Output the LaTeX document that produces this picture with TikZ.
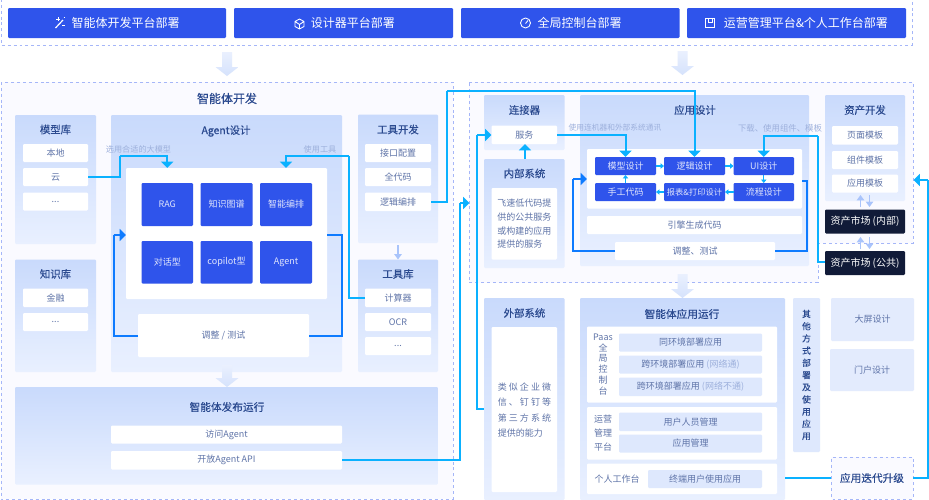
\documentclass[tikz,border=0pt]{standalone}
\usepackage{fontspec}
\setmainfont[BoldFont={Noto Sans CJK SC},BoldFeatures={FakeBold=0.35}]{Noto Sans CJK SC}
\usetikzlibrary{arrows.meta,calc}
\definecolor{btn}{HTML}{2F54EB}
\definecolor{ttl}{HTML}{2B4A8F}
\definecolor{itm}{HTML}{5F74A8}
\definecolor{lbl}{HTML}{9DB0DC}
\definecolor{cyn}{HTML}{0AB1FF}
\definecolor{blu}{HTML}{0E7BFF}
\definecolor{dsh}{HTML}{A5B6F8}
\definecolor{bgd}{HTML}{FAFAFF}
\definecolor{dark}{HTML}{111B38}
\definecolor{pale}{HTML}{DEE8FD}
\definecolor{gtop}{HTML}{C9DAFC}
\definecolor{gbot}{HTML}{E9F0FF}
\definecolor{arT}{HTML}{EAF0FE}
\definecolor{arB}{HTML}{D5E2FC}
\definecolor{sm}{HTML}{A9C4FB}
\newcommand\fs[2]{\fontsize{#1}{#2}\selectfont}
\tikzset{
 x=0.75pt,y=-0.75pt,
 base/.style={inner sep=0pt,outer sep=0pt,rounded corners=0.8pt,align=center},
 btnbox/.style={base,fill=btn,text=white,font=\fs{9}{11}},
 panel/.style={base,top color=gtop,bottom color=gbot,middle color=gtop!50!gbot},
 white box/.style={base,fill=white,text=itm,font=\fs{6.75}{9}},
 tile/.style={base,fill=btn,text=white!85!btn,font=\fs{6.75}{9}},
 palebox/.style={base,fill=pale,text=itm,font=\fs{6.75}{9}},
 darkbox/.style={base,fill=dark,text=white,font=\fs{7.5}{9}},
 ttlA/.style={text=ttl,font=\bfseries\fs{7.8}{10},inner sep=0pt},
 ttlB/.style={text=ttl,font=\bfseries\fs{9}{11},inner sep=0pt},
 lab/.style={text=lbl,font=\fs{6.1}{8},inner sep=0pt},
 itx/.style={text=itm,font=\fs{6.75}{9},inner sep=0pt,align=center},
 dbox/.style={draw=dsh,line width=0.75pt,dash pattern=on 2.2pt off 2.2pt},
 cy/.style={draw=cyn,line width=1.5pt,-{Triangle[width=9pt,length=4.8pt]}},
 cyn line/.style={draw=cyn,line width=1.5pt},
 bl/.style={draw=blu,line width=1.5pt,-{Triangle[width=9pt,length=4.8pt]}},
 bl line/.style={draw=blu,line width=1.5pt},
 tiny/.style={draw=cyn,line width=0.9pt,-{Triangle[width=4pt,length=2.6pt]}},
 smar/.style={draw=sm,line width=1pt,-{Triangle[width=5.5pt,length=4pt]}},
 icon/.style={draw=white,line width=0.65pt},
}
\newcommand\bx[7][]{%
 \pgfmathsetmacro\bxw{(#5-#3)*0.75}\pgfmathsetmacro\bxh{(#6-#4)*0.75}%
 \pgfmathsetmacro\bxx{(#3+#5)/2}\pgfmathsetmacro\bxy{(#4+#6)/2}%
 \node[#1,minimum width=\bxw pt,minimum height=\bxh pt] (#2) at (\bxx,\bxy) {#7};}
\newcommand\blockar[3]{% x, top, bottom
 \shade[top color=arT,bottom color=arB]
 ({#1-5},#2) -- ({#1+5},#2) -- ({#1+5},{#3-9}) -- ({#1+11.5},{#3-9}) -- (#1,#3) -- ({#1-11.5},{#3-9}) -- ({#1-5},{#3-9}) -- cycle;}
\begin{document}
\begin{tikzpicture}
\useasboundingbox (0,0) rectangle (929,500);
\fill[white] (0,0) rectangle (929,500);
% dashed frames
\draw[dbox] (1,-1) rectangle (912,45);
\filldraw[dbox,fill=bgd] (1,82) rectangle (453,499);
\filldraw[dbox,fill=bgd] (469,82) -- (913,82) -- (913,243) -- (818,243) -- (818,282.5) -- (469,282.5) -- cycle;
% deploy buttons
\bx[btnbox]{b1}{8}{8}{226}{38}{\hspace*{13pt}智能体开发平台部署}
\bx[btnbox]{b2}{234}{8}{453}{38}{\hspace*{14pt}设计器平台部署}
\bx[btnbox]{b3}{461}{8}{679.5}{38}{\hspace*{14pt}全局控制台部署}
\bx[btnbox]{b4}{687}{8}{906}{38}{\hspace*{14pt}运营管理平台\&个人工作台部署}
% icons
\draw[icon,line width=0.9pt] (55.5,28) -- (63,20);
\draw[icon,line width=0.5pt] (58,17) -- (58,21) (56,19) -- (60,19) (62,25) -- (65,25) (63.5,17.5) -- (65,17.5);
\draw[icon] (299.5,19) -- (304,21.5) -- (304,26.5) -- (299.5,29) -- (295,26.5) -- (295,21.5) -- cycle (295,21.5) -- (299.5,24.5) -- (304,21.5) (299.5,24.5) -- (299.5,29);
\draw[icon] (525.5,23) circle (5);
\draw[icon] (525.5,23.5) -- (528,20.5);
\draw[icon] (705.5,18.5) rectangle (714.5,27.5) (708,18.5) -- (708,22.5) -- (712,22.5) -- (712,18.5);
% block arrows
\blockar{227}{52}{76}
\blockar{682.5}{51}{75}
% left: agent development
\node[ttlB] (t1) at (227,98.5) {智能体开发};
\bx[panel]{mlib}{15}{115}{96}{244}{}
\node[ttlA] at (55.5,129.5) {模型库};
\bx[white box]{m1}{23}{144}{88}{162}{本地}
\bx[white box]{m2}{23}{168}{88}{186}{云}
\bx[white box]{m3}{23}{192.5}{88}{210.5}{...}
\bx[panel]{klib}{15}{259.5}{96}{372}{}
\node[ttlA] at (55.5,274) {知识库};
\bx[white box]{k1}{23}{288.5}{88}{307}{金融}
\bx[white box]{k2}{23}{313}{88}{331}{...}
\bx[panel]{adesign}{111}{115}{342}{372}{}
\node[ttlA] at (226,131) {Agent设计};
\node[lab] at (138.5,149.5) {选用合适的大模型};
\node[lab] at (320,149.5) {使用工具};
\bx[base,fill=white]{apanel}{126}{168}{327}{299}{}
\bx[tile]{a1}{141.5}{183}{193}{226}{RAG}
\bx[tile]{a2}{200.5}{183}{252.5}{226}{知识图谱}
\bx[tile]{a3}{260}{183}{312}{226}{智能编排}
\bx[tile]{a4}{141.5}{241}{193}{283.5}{对话型}
\bx[tile]{a5}{200.5}{241}{252.5}{283.5}{copilot型}
\bx[tile]{a6}{260}{241}{312}{283.5}{Agent}
\bx[white box]{atest}{138}{314}{309}{357}{调整 / 测试}
\bx[panel]{tdev}{358}{114.5}{438}{243}{}
\node[ttlA] at (398,129.5) {工具开发};
\bx[white box]{t2}{365}{144}{431}{162}{接口配置}
\bx[white box]{t3}{365}{168}{431}{186}{全代码}
\bx[white box]{t4}{365}{192.5}{431}{211}{逻辑编排}
\bx[panel]{tlib}{358}{259.5}{438}{372}{}
\node[ttlA] at (398,274) {工具库};
\bx[white box]{l1}{365}{288.5}{431}{307}{计算器}
\bx[white box]{l2}{365}{313}{431}{331}{OCR}
\bx[white box]{l3}{365}{337}{431}{355}{...}
\draw[smar] (tdev.south) ++(0,2) -- (tlib.north);
\bx[panel]{pub}{15}{387}{438}{484.5}{}
\node[ttlA,font=\bfseries\fs{8}{10}] at (227,407) {智能体发布运行};
\bx[white box]{p1}{111}{425.5}{342}{443.5}{访问Agent}
\bx[white box]{p2}{111}{451}{342}{469.5}{开放Agent API}
\blockar{227}{365}{387}
% right: application design
\bx[panel]{conn}{484}{95}{564.5}{150}{}
\node[ttlA] at (524.5,110) {连接器};
\bx[white box]{svc}{491.5}{125.5}{557}{144}{服务}
\bx[panel]{isys}{484}{159}{564.5}{268}{}
\node[ttlA] at (524.5,173.5) {内部系统};
\bx[white box,font=\fs{6.75}{10.35}]{itxt}{491.5}{188}{557}{259.5}{飞速低代码提\\供的公共服务\\或构建的应用\\提供的服务\hspace*{6.75pt}}
\bx[panel]{adsn}{580}{95}{809}{266}{}
\node[ttlA] at (695,110) {应用设计};
\node[lab,font=\fs{5.8}{8}] at (615,128) {使用连机器和外部系统通讯};
\node[lab,font=\fs{6.3}{8}] at (780,128) {下载、使用组件、模板};
\bx[base,fill=white]{dpanel}{587}{149}{802}{208.5}{}
\bx[tile]{d1}{595}{157}{656}{175}{模型设计}
\bx[tile]{d2}{664}{157}{725}{175}{逻辑设计}
\bx[tile]{d3}{733.5}{157}{794}{175}{UI设计}
\bx[tile]{d4}{595}{183}{656}{201}{手工代码}
\bx[tile,font=\fs{6.2}{9}]{d5}{664}{183}{725}{201}{报表\&打印设计}
\bx[tile]{d6}{733.5}{183}{794}{201}{流程设计}
\draw[tiny] (d1.east) -- (d2.west);
\draw[tiny] (d2.east) -- (d3.west);
\draw[tiny] (d3.south) -- (d6.north);
\draw[tiny] (d6.west) -- (d5.east);
\draw[tiny] (d5.west) -- (d4.east);
\draw[tiny] (d4.north) -- (d1.south);
\bx[white box]{engine}{587}{216}{802}{234}{引擎生成代码}
\bx[white box]{dtest}{615}{242}{775}{260}{调整、测试}
\bx[panel]{adev}{825}{95}{905}{201}{}
\node[ttlA] at (865,110) {资产开发};
\bx[white box]{as1}{832}{126}{898}{144.5}{页面模板}
\bx[white box]{as2}{832}{151}{898}{169}{组件模板}
\bx[white box]{as3}{832}{174.5}{898}{192.5}{应用模板}
\bx[darkbox]{mk1}{825}{209.5}{905}{233.5}{资产市场 (内部)}
\bx[darkbox]{mk2}{825}{251}{905}{275}{资产市场 (公共)}
\draw[smar] (860.5,207) -- (860.5,195);
\draw[smar] (869.5,195) -- (869.5,207);
\draw[smar] (860.5,249) -- (860.5,237);
\draw[smar] (869.5,237) -- (869.5,249);
% run time
\blockar{682.5}{274}{298}
\bx[panel]{esys}{484}{298}{564.5}{500}{}
\node[ttlA] at (524.5,313) {外部系统};
\bx[white box]{etxt}{491.5}{327}{557}{492}{}
\node[itx,font=\fs{6.75}{11.5},align=left,anchor=center] (etx) at (524.5,410) {%
\makebox[40pt][s]{类\hfil 似\hfil 企\hfil 业\hfil 微}\\
\makebox[40pt][s]{信\hfil 、\hfil 钉\hfil 钉\hfil 等}\\
\makebox[40pt][s]{第\hfil 三\hfil 方\hfil 系\hfil 统}\\
提供的能力};
\bx[panel]{run}{580}{298}{785}{500}{}
\node[ttlA,font=\bfseries\fs{8}{10}] at (682,314) {智能体应用运行};
\bx[base,fill=white]{r1}{587}{326.5}{777}{402.5}{}
\bx[base,fill=white]{r2}{587}{407}{777}{459.5}{}
\bx[base,fill=white]{r3}{587}{463.5}{777}{494}{}
\node[itx,font=\fs{6.75}{8.2}] at (603,364.5) {Paas\\全\\局\\控\\制\\台};
\node[itx,font=\fs{6.75}{10.4}] at (603,433) {运营\\管理\\平台};
\node[itx] at (617,479) {个人工作台};
\bx[palebox]{q1}{619}{333.5}{762}{351.5}{同环境部署应用}
\bx[palebox]{q2}{619}{355.5}{762}{373.5}{跨环境部署应用 \textcolor{lbl}{(网络通)}}
\bx[palebox]{q3}{619}{377.5}{762}{396}{跨环境部署应用 \textcolor{lbl}{(网络不通)}}
\bx[palebox]{q4}{619}{412.5}{762}{431}{用户人员管理}
\bx[palebox]{q5}{619}{434.5}{762}{452.5}{应用管理}
\bx[palebox]{q6}{648}{470}{762}{488}{终端用户使用应用}
\bx[palebox,text=ttl,font=\bfseries\fs{6.6}{9.15}]{other}{793}{298}{820}{452}{其\\他\\方\\式\\部\\署\\及\\使\\用\\应\\用}
\bx[base,fill=pale!85!white,text=itm,font=\fs{6.75}{9}]{big}{831}{298}{914}{341}{大屏设计}
\bx[base,fill=pale!85!white,text=itm,font=\fs{6.75}{9}]{portal}{830}{349}{914}{391}{门户设计}
\bx[dbox,base,fill=bgd,text=ttl,font=\bfseries\fs{8}{10}]{iter}{831}{457}{913}{499}{应用迭代升级}
% connectors
\coordinate (c1) at (120,156);
\draw[cyn line] (m2.east) -| (c1);
\draw[cy] (c1) -| (apanel.north -| a1.north);
\coordinate (c2) at (348.5,156);
\draw[cyn line] (l1.west) -| (c2);
\draw[cy] (c2) -| (apanel.north -| a3.north);
\coordinate (c3) at (113.5,235);
\draw[bl line] (atest.west) -| (c3);
\draw[bl] (c3) -- (apanel.west |- c3);
\coordinate (c4) at (341.5,235);
\draw[bl line] (atest.east) -| (c4) -- (apanel.east |- c4);
\coordinate (c5) at (447,91);
\draw[cyn line] (t4.east) -| (c5);
\draw[cy] (c5) -| (d2.north);
\coordinate (c6) at (460,203);
\draw[cyn line] (p2.east) -| (c6);
\draw[cy] (c6) -- (469.5,203);
\coordinate (c7) at (477,135);
\draw[cyn line] (esys.west |- 0,409) -| (c7);
\draw[cy] (c7) -- (svc.west |- c7);
\draw[cy] (isys.north -| 525,0) -- (svc.south -| 525,0);
\draw[cy] (svc.east) -| (d1.north);
\coordinate (c8) at (818,135.5);
\draw[cyn line] (mk2.west |- 0,262) -| (c8);
\draw[cy] (c8) -| (d3.north);
\coordinate (c9) at (573,179);
\draw[bl line] (dtest.west) -| (c9);
\draw[bl] (c9) -- (dpanel.west |- c9);
\coordinate (c10) at (807,181);
\draw[bl line] (dtest.east) -| (c10) -- (dpanel.east |- c10);
\draw[cyn line] (run.east |- iter.west) -- (iter.west);
\coordinate (c11) at (927.5,180);
\draw[cyn line] (iter.east) -| (c11);
\draw[cy] (c11) -- (913.5,180);
\end{tikzpicture}
\end{document}
